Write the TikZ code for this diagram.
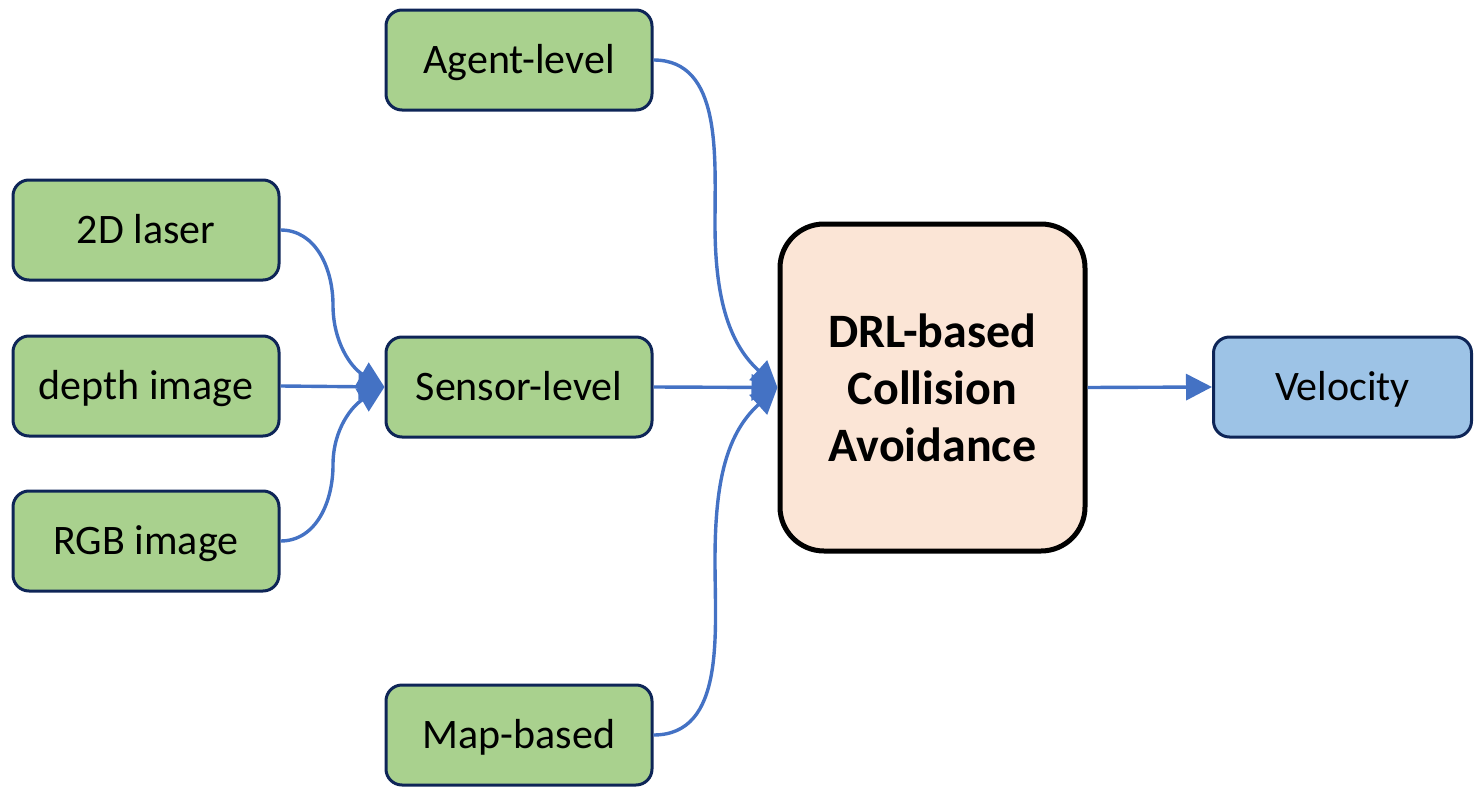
\documentclass[tikz,border=0pt]{standalone}
\usepackage{fontspec}
\setmainfont{Carlito}
\usetikzlibrary{arrows.meta}
\definecolor{gfill}{HTML}{A9D18E}
\definecolor{navy}{HTML}{0E2557}
\definecolor{bfill}{HTML}{9DC3E6}
\definecolor{pfill}{HTML}{FBE5D6}
\definecolor{conblue}{HTML}{4472C4}
\tikzset{
  gbox/.style={draw=navy, line width=1.5pt, fill=gfill, rounded corners=8pt,
    minimum width=133pt, minimum height=50pt, inner sep=0pt,
    text height=18pt, text depth=4.5pt,
    font=\fontsize{21}{25}\selectfont},
  vbox/.style={gbox, fill=bfill, minimum width=129pt},
  mainbox/.style={draw=black, line width=2.5pt, fill=pfill, rounded corners=22pt,
    minimum width=152.5pt, minimum height=163.5pt, inner sep=0pt, align=center,
    font=\fontsize{24}{28.5}\selectfont\bfseries},
  conn/.style={draw=conblue, line width=1.7pt, -{Triangle[length=13pt,width=13pt]}}
}
\begin{document}
\begin{tikzpicture}[x=0.5pt,y=-0.5pt]
\useasboundingbox (0,0) rectangle (1474,787);
\node[gbox] (laser) at (146,230) {2D laser};
\node[gbox] (depth) at (146,386) {depth image};
\node[gbox] (rgb) at (146,541) {RGB image};
\node[gbox] (agent) at (519,60) {Agent-level};
\node[gbox] (sensor) at (519,387) {Sensor-level};
\node[gbox] (map) at (519,735) {Map-based};
\node[mainbox] (drl) at (932.5,387.5) {DRL-based\\Collision\\Avoidance};
\node[vbox] (vel) at (1342.5,387) {Velocity};
\coordinate (m1) at (333,305);
\coordinate (m2) at (333,465);
\coordinate (m3) at (715,224);
\coordinate (m4) at (715,561);
\draw[conn] (laser.east) to[out=0,in=90] (m1) to[out=-90,in=150] (sensor.west);
\draw[conn] (depth.east) -- (sensor.west);
\draw[conn] (rgb.east) to[out=0,in=-90] (m2) to[out=90,in=-150] (sensor.west);
\draw[conn] (agent.east) to[out=0,in=90] (m3) to[out=-90,in=138] (drl.west);
\draw[conn] (sensor.east) -- (drl.west);
\draw[conn] (map.east) to[out=0,in=-90] (m4) to[out=90,in=-138] (drl.west);
\draw[conn] (drl.east) -- (vel.west);
\end{tikzpicture}
\end{document}
